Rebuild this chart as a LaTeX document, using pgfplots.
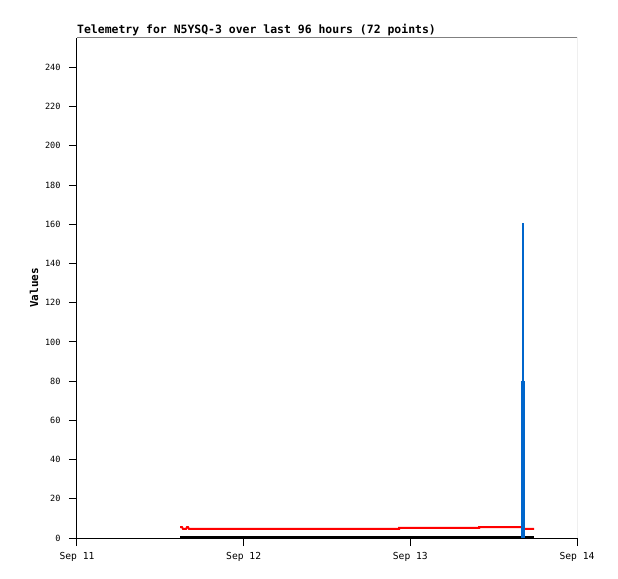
\documentclass[border=0pt]{standalone}
\usepackage{pgfplots}
\pgfplotsset{compat=1.18}
\usepackage{fontspec}
\setmainfont{DejaVu Sans Mono}
\definecolor{tblue}{HTML}{0066CC}
\definecolor{tred}{HTML}{FF0000}
\begin{document}
\begin{tikzpicture}
\begin{axis}[
  scale only axis, width=500bp, height=500bp,
  xmin=0, xmax=3, ymin=0, ymax=255,
  axis lines*=left,
  axis line style={black, line width=1bp},
  tick align=outside, major tick length=8bp,
  tick style={black, line width=1bp},
  xtick={0,1,2,3}, xticklabels={Sep 11,Sep 12,Sep 13,Sep 14},
  ytick={0,20,...,240},
  /pgf/number format/assume math mode=true,
  xticklabel style={font=\fontsize{9.7}{11}\selectfont, yshift=-3bp},
  yticklabel style={font=\fontsize{8.6}{10}\selectfont, xshift=-5bp},
  title={Telemetry for N5YSQ-3 over last 96 hours (72 points)},
  title style={at={(0,1)}, anchor=south west, inner sep=0pt, yshift=-4.5bp,
    font=\bfseries\fontsize{11.5}{13}\selectfont},
  ylabel={Values},
  ylabel style={at={(axis description cs:-0.086,0.5)}, anchor=center,
    font=\bfseries\fontsize{11}{13}\selectfont},
]
\coordinate (O) at (rel axis cs:0,0);
\draw[gray, line width=1bp] (rel axis cs:0,1) -- (rel axis cs:1,1) -- (rel axis cs:1,0);
\addplot[tred, line width=2bp] coordinates {
 (0.618,5.6) (0.630,5.6) (0.636,4.6) (0.654,4.6) (0.660,5.6) (0.666,5.6) (0.672,4.6)
 (1.932,4.6) (1.932,5.1) (2.412,5.1) (2.412,5.6) (2.676,5.6) (2.676,4.6) (2.742,4.6)};
\addplot[black, line width=1.6bp] coordinates {(0.618,0.4) (2.742,0.4)};
\addplot[tblue, line width=2bp] coordinates {(2.676,0) (2.676,160.4)};
\addplot[tblue, line width=4bp] coordinates {(2.676,0) (2.676,80.2)};
\end{axis}
\pgfresetboundingbox
\path (O) ++(-77bp,-41bp) rectangle ++(618bp,579bp);
\end{tikzpicture}
\end{document}
